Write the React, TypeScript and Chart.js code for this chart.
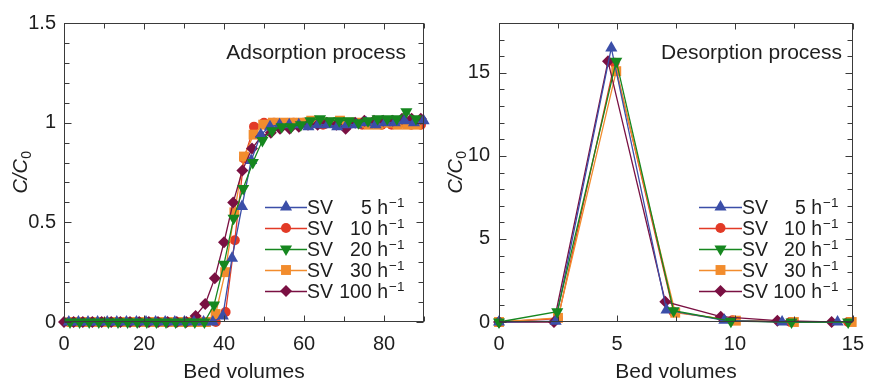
import React, { useEffect, useRef } from 'react';
import { Chart, registerables } from 'chart.js';

Chart.register(...registerables);

const FONT = '"Liberation Sans", Arial, Helvetica, sans-serif';
const TEXT_COLOR = '#1e1e1e';
const AXIS_COLOR = '#3a3a3a';

// ---- Series meta ----
const svRates = ['5', '10', '20', '30', '100'];
const seriesColors = ['#3b4ea8', '#e23a26', '#16871f', '#f28c2d', '#7a1042'];
const markerStyles = ['triangle', 'circle', 'triangle', 'rect', 'rectRot'];
const markerRotations = [0, 0, 180, 0, 0];
const markerRadii = [7, 5, 7, 7, 6];
const drawOrder = [1, 4, 0, 3, 2];

// ---- Adsorption (left panel) ----
const adsX5 = [1.2, 3.6, 6.0, 8.4, 10.8, 13.2, 15.6, 18.1, 20.5, 22.9, 25.3, 27.7, 30.1, 32.5, 34.9, 37.2, 39.7, 42.0, 44.5, 46.8, 49.2, 51.5, 53.9, 56.3, 58.7, 61.1, 63.5, 65.9, 68.3, 70.7, 73.1, 75.5, 77.9, 80.3, 82.7, 85.1, 87.5, 89.9];
const adsY5 = [0, 0, 0, 0, 0, 0, 0, 0, 0, 0, 0, 0, 0, 0, 0, 0.0, 0.03, 0.32, 0.58, 0.81, 0.94, 0.98, 0.99, 0.99, 0.99, 0.98, 0.99, 0.99, 0.98, 0.99, 0.99, 1.0, 0.99, 1.0, 1.0, 1.01, 1.0, 1.01];

const adsX10 = [1.2, 3.65, 6.1, 8.55, 11.0, 13.45, 15.9, 18.35, 20.8, 23.25, 25.7, 28.15, 30.6, 33.05, 35.5, 37.95, 40.4, 42.7, 45.0, 47.5, 50.0, 52.5, 54.95, 57.4, 59.85, 62.3, 64.75, 67.2, 69.65, 72.1, 74.55, 77.0, 79.45, 81.9, 84.35, 86.8, 89.25];
const adsY10 = [0, 0, 0, 0, 0, 0, 0, 0, 0, 0, 0, 0, 0, 0, 0, 0, 0.05, 0.41, 0.82, 0.98, 1.0, 1.0, 0.99, 1.0, 1.0, 1.0, 0.99, 1.0, 1.0, 1.0, 0.99, 1.0, 0.99, 0.99, 1.0, 0.99, 0.99];

const adsX20 = [1.5, 3.9, 6.3, 8.7, 11.1, 13.5, 15.9, 18.3, 20.7, 23.1, 25.5, 27.9, 30.3, 32.7, 35.1, 37.5, 40.0, 42.4, 44.8, 47.2, 49.6, 52.0, 54.4, 56.8, 59.2, 61.6, 64.0, 66.4, 68.8, 71.2, 73.6, 76.0, 78.4, 80.8, 83.2, 85.6, 88.0];
const adsY20 = [0, 0, 0, 0, 0, 0, 0, 0, 0, 0, 0, 0, 0, 0, 0, 0.085, 0.29, 0.52, 0.67, 0.8, 0.91, 0.96, 0.98, 0.98, 0.99, 1.01, 1.02, 1.01, 1.01, 1.01, 1.0, 1.01, 1.02, 1.02, 1.02, 1.055, 1.02];

const adsX30 = [1.9, 4.3, 6.7, 9.1, 11.5, 13.9, 16.3, 18.7, 21.1, 23.5, 25.9, 28.3, 30.7, 33.1, 35.5, 37.9, 40.3, 42.6, 45.0, 47.4, 49.8, 52.2, 54.6, 57.0, 59.4, 61.8, 64.2, 66.6, 69.0, 71.4, 73.8, 76.2, 78.6, 81.0, 83.4, 85.8, 88.2];
const adsY30 = [0, 0, 0, 0, 0, 0, 0, 0, 0, 0, 0, 0, 0, 0, 0, 0.04, 0.25, 0.55, 0.83, 0.94, 0.99, 1.0, 1.0, 1.0, 1.0, 1.01, 1.0, 1.0, 1.01, 1.0, 1.0, 0.99, 0.99, 1.0, 0.99, 0.99, 0.99];

const adsX100 = [0.0, 2.4, 4.7, 7.1, 9.4, 11.8, 14.1, 16.5, 18.8, 21.2, 23.5, 25.9, 28.2, 30.6, 32.9, 35.3, 37.7, 40.0, 42.3, 44.6, 47.0, 49.3, 51.7, 54.0, 56.4, 58.7, 61.0, 63.4, 65.7, 68.1, 70.4, 72.8, 75.1, 77.5, 79.8, 82.2, 84.5, 86.9, 89.2];
const adsY100 = [0, 0, 0, 0, 0, 0, 0, 0, 0, 0, 0, 0, 0, 0, 0.03, 0.09, 0.22, 0.4, 0.6, 0.76, 0.87, 0.93, 0.95, 0.97, 0.97, 0.98, 0.99, 0.99, 1.0, 0.99, 0.97, 1.0, 1.01, 1.01, 1.01, 1.01, 1.02, 1.02, 1.02];

const adsXTicks = [0, 20, 40, 60, 80];
const adsYTicks = [0, 0.5, 1, 1.5];
const adsYTickLabels = ['0', '0.5', '1', '1.5'];

// ---- Desorption (right panel) ----
const desX5 = [0, 2.4, 4.76, 7.1, 9.55, 12.0, 14.35];
const desY5 = [0, 0.05, 16.5, 0.72, 0.1, 0.0, 0.0];
const desX10 = [0, 2.5, 4.9, 7.4, 9.9, 12.35, 14.8];
const desY10 = [0, 0.2, 15.6, 0.6, 0.1, 0.0, 0.0];
const desX20 = [0, 2.47, 4.97, 7.4, 9.83, 12.4, 14.8];
const desY20 = [0, 0.62, 15.7, 0.68, 0.05, 0.0, 0.0];
const desX30 = [0, 2.5, 4.97, 7.47, 10.04, 12.5, 14.95];
const desY30 = [0, 0.25, 15.1, 0.56, 0.08, 0.0, 0.0];
const desX100 = [0, 2.33, 4.62, 7.05, 9.4, 11.8, 14.1];
const desY100 = [0, 0.0, 15.7, 1.22, 0.32, 0.08, 0.0];

const desXTicks = [0, 5, 10, 15];
const desYTicks = [0, 5, 10, 15];
const desYTickLabels = ['0', '5', '10', '15'];

interface Panel {
  xs: number[][];
  ys: number[][];
  xMin: number; xMax: number; yMin: number; yMax: number;
  xTicks: number[]; yTicks: number[]; yTickLabels: string[];
  xMinorStep: number; yMinorStep: number;
  yAxisWidth: number; padRight: number; yLabelPad: number;
  note: string; noteRight: number;
  legX0: number; legX1: number; legSV: number; legNumRight: number; legRow0: number; legGap: number;
  yTitleX: number;
}

const leftPanel: Panel = {
  xs: [adsX5, adsX10, adsX20, adsX30, adsX100],
  ys: [adsY5, adsY10, adsY20, adsY30, adsY100],
  xMin: 0, xMax: 90, yMin: 0, yMax: 1.5,
  xTicks: adsXTicks, yTicks: adsYTicks, yTickLabels: adsYTickLabels,
  xMinorStep: 10, yMinorStep: 0.1,
  yAxisWidth: 64, padRight: 13, yLabelPad: 8,
  note: 'Adsorption process', noteRight: 406,
  legX0: 265, legX1: 307, legSV: 307, legNumRight: 388, legRow0: 207, legGap: 21,
  yTitleX: 27,
};

const rightPanel: Panel = {
  xs: [desX5, desX10, desX20, desX30, desX100],
  ys: [desY5, desY10, desY20, desY30, desY100],
  xMin: 0, xMax: 15, yMin: 0, yMax: 18,
  xTicks: desXTicks, yTicks: desYTicks, yTickLabels: desYTickLabels,
  xMinorStep: 2.5, yMinorStep: 1,
  yAxisWidth: 62, padRight: 16, yLabelPad: 9,
  note: 'Desorption process', noteRight: 405,
  legX0: 262, legX1: 305, legSV: 305, legNumRight: 385, legRow0: 207, legGap: 21,
  yTitleX: 25,
};

function drawMarker(ctx: CanvasRenderingContext2D, i: number, x: number, y: number) {
  const r = markerRadii[i];
  const style = markerStyles[i];
  ctx.save();
  ctx.fillStyle = seriesColors[i];
  ctx.beginPath();
  if (style === 'circle') {
    ctx.arc(x, y, r, 0, Math.PI * 2);
  } else if (style === 'triangle') {
    const rot = (markerRotations[i] * Math.PI) / 180;
    for (let k = 0; k < 3; k++) {
      const a = rot + (k * 2 * Math.PI) / 3;
      const px = x + Math.sin(a) * r;
      const py = y - Math.cos(a) * r;
      if (k === 0) ctx.moveTo(px, py); else ctx.lineTo(px, py);
    }
    ctx.closePath();
  } else if (style === 'rect') {
    const s = Math.SQRT1_2 * r;
    ctx.rect(x - s, y - s, 2 * s, 2 * s);
  } else {
    ctx.moveTo(x - r, y);
    ctx.lineTo(x, y - r);
    ctx.lineTo(x + r, y);
    ctx.lineTo(x, y + r);
    ctx.closePath();
  }
  ctx.fill();
  ctx.restore();
}

function decorPlugin(p: Panel) {
  return {
    id: 'decor',
    afterDraw(chart: any) {
      const ctx: CanvasRenderingContext2D = chart.ctx;
      const { left, right, top, bottom } = chart.chartArea;
      const xs = chart.scales.x;
      const ys = chart.scales.y;
      ctx.save();
      // frame
      ctx.strokeStyle = AXIS_COLOR;
      ctx.lineWidth = 1;
      const L = Math.round(left) + 0.5, R = Math.round(right) - 0.5;
      const T = Math.round(top) + 0.5, B = Math.round(bottom) - 0.5;
      ctx.strokeRect(L, T, R - L, B - T);
      // x ticks (bottom & top)
      ctx.beginPath();
      const nx = Math.round((p.xMax - p.xMin) / p.xMinorStep);
      for (let k = 0; k <= nx; k++) {
        const v = p.xMin + k * p.xMinorStep;
        const px = Math.round(xs.getPixelForValue(v)) + 0.5;
        const major = p.xTicks.some((t) => Math.abs(t - v) < 1e-6);
        const len = major ? 6 : 5;
        ctx.moveTo(px, B); ctx.lineTo(px, B - len);
        ctx.moveTo(px, T); ctx.lineTo(px, T + len);
      }
      const ny = Math.round((p.yMax - p.yMin) / p.yMinorStep);
      for (let k = 0; k <= ny; k++) {
        const v = p.yMin + k * p.yMinorStep;
        const py = Math.round(ys.getPixelForValue(v)) + 0.5;
        const major = p.yTicks.some((t) => Math.abs(t - v) < 1e-6);
        const len = major ? 7 : 5;
        ctx.moveTo(L, py); ctx.lineTo(L + len, py);
        ctx.moveTo(R, py); ctx.lineTo(R - len, py);
      }
      ctx.stroke();

      // note
      ctx.fillStyle = TEXT_COLOR;
      ctx.font = `21px ${FONT}`;
      ctx.textAlign = 'right';
      ctx.textBaseline = 'alphabetic';
      ctx.fillText(p.note, p.noteRight, 59);

      // y title C/C0
      ctx.save();
      const cy = (top + bottom) / 2;
      ctx.translate(p.yTitleX, cy);
      ctx.rotate(-Math.PI / 2);
      ctx.font = `italic 20px ${FONT}`;
      const w1 = ctx.measureText('C/C').width;
      ctx.font = `14px ${FONT}`;
      const w2 = ctx.measureText('0').width;
      const start = -(w1 + w2) / 2;
      ctx.textAlign = 'left';
      ctx.font = `italic 20px ${FONT}`;
      ctx.fillText('C/C', start, 0);
      ctx.font = `14px ${FONT}`;
      ctx.fillText('0', start + w1 + 0.5, 4);
      ctx.restore();

      // legend
      for (let i = 0; i < svRates.length; i++) {
        const y = p.legRow0 + i * p.legGap;
        ctx.strokeStyle = seriesColors[i];
        ctx.lineWidth = 1.3;
        ctx.beginPath();
        ctx.moveTo(p.legX0, y + 0.5);
        ctx.lineTo(p.legX1, y + 0.5);
        ctx.stroke();
        drawMarker(ctx, i, (p.legX0 + p.legX1) / 2, y);
        ctx.fillStyle = TEXT_COLOR;
        ctx.font = `19.5px ${FONT}`;
        ctx.textAlign = 'left';
        ctx.fillText('SV', p.legSV, y + 7);
        ctx.textAlign = 'right';
        ctx.fillText(`${svRates[i]} h`, p.legNumRight, y + 7);
        ctx.font = `13.5px ${FONT}`;
        ctx.textAlign = 'left';
        ctx.fillText('\u22121', p.legNumRight + 1, y - 0.5);
      }
      ctx.restore();
    },
  };
}

function buildConfig(p: Panel): any {
  const datasets = p.xs.map((xArr, i) => ({
    label: `SV ${svRates[i]} h\u207B\u00B9`,
    data: xArr.map((x, j) => ({ x, y: p.ys[i][j] })),
    showLine: true,
    borderColor: seriesColors[i],
    backgroundColor: seriesColors[i],
    borderWidth: 1.3,
    pointStyle: markerStyles[i],
    pointRotation: markerRotations[i],
    pointRadius: markerRadii[i],
    pointBorderWidth: 0,
    pointBackgroundColor: seriesColors[i],
    tension: 0,
    clip: false,
    order: drawOrder[i],
  }));
  return {
    type: 'scatter',
    data: { datasets },
    options: {
      responsive: false,
      animation: false,
      devicePixelRatio: 1,
      events: [],
      layout: { padding: { left: 0, top: 23, right: p.padRight, bottom: 0 } },
      plugins: { legend: { display: false }, tooltip: { enabled: false } },
      scales: {
        x: {
          type: 'linear',
          min: p.xMin,
          max: p.xMax,
          grid: { display: false, drawTicks: false },
          border: { display: false },
          ticks: {
            font: { family: FONT, size: 20 },
            color: TEXT_COLOR,
            padding: 10,
            autoSkip: false,
            maxRotation: 0,
            callback: (v: any) => String(v),
          },
          afterBuildTicks: (s: any) => {
            s.ticks = p.xTicks.map((v) => ({ value: v }));
          },
          afterFit: (s: any) => {
            s.height = 57;
          },
          title: {
            display: true,
            text: 'Bed volumes',
            color: TEXT_COLOR,
            font: { family: FONT, size: 21 },
            padding: { top: 0, bottom: -6 },
          },
        },
        y: {
          type: 'linear',
          min: p.yMin,
          max: p.yMax,
          grid: { display: false, drawTicks: false },
          border: { display: false },
          ticks: {
            font: { family: FONT, size: 20 },
            color: TEXT_COLOR,
            padding: p.yLabelPad,
            autoSkip: false,
            callback: (_v: any, idx: number) => p.yTickLabels[idx],
          },
          afterBuildTicks: (s: any) => {
            s.ticks = p.yTicks.map((v) => ({ value: v }));
          },
          afterFit: (s: any) => {
            s.width = p.yAxisWidth;
          },
        },
      },
    },
    plugins: [decorPlugin(p)],
  };
}

export default function App() {
  const leftRef = useRef<HTMLCanvasElement>(null);
  const rightRef = useRef<HTMLCanvasElement>(null);
  useEffect(() => {
    const c1 = new Chart(leftRef.current as HTMLCanvasElement, buildConfig(leftPanel));
    const c2 = new Chart(rightRef.current as HTMLCanvasElement, buildConfig(rightPanel));
    return () => {
      c1.destroy();
      c2.destroy();
    };
  }, []);
  return (
    <div style={{ position: 'fixed', left: 0, top: 0, width: 874, height: 379, background: '#ffffff', overflow: 'hidden' }}>
      <canvas ref={leftRef} width={437} height={379} style={{ position: 'absolute', left: 0, top: 0, width: 437, height: 379 }} />
      <canvas ref={rightRef} width={437} height={379} style={{ position: 'absolute', left: 437, top: 0, width: 437, height: 379 }} />
    </div>
  );
}
